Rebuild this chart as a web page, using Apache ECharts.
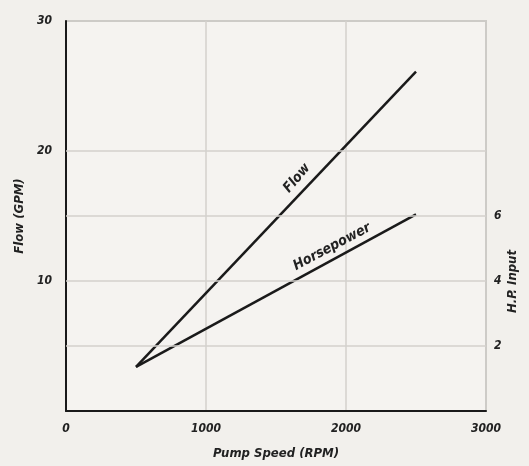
<!DOCTYPE html>
<html>
<head>
<meta charset="utf-8">
<script src="https://cdn.jsdelivr.net/npm/echarts@6/dist/echarts.min.js"></script>
<style>
html,body{margin:0;padding:0;background:#f2f0ec;}
#c{width:529px;height:466px;}
</style>
</head>
<body>
<div id="c"></div>
<script>
// Data
var pumpSpeed = [500, 2500];          // RPM
var flowGPM = [3.4, 26.1];            // GPM (left axis)
var hpInput = [1.36, 6.05];           // H.P. (right axis)
var xTicks = [0, 1000, 2000, 3000];
var flowTickLabels = [10, 20, 30];
var hpTickLabels = [2, 4, 6];
var flowGridValues = [5, 10, 15, 20];
var flowLabelAt = [1650, 17.9];
var hpLabelAt = [1900, 5.05];

var FONT = '"DejaVu Sans Condensed","Liberation Sans Narrow",sans-serif';
var txt = {fontFamily: FONT, fontStyle: 'italic', fontWeight: 'bold', color: '#222'};

var chart = echarts.init(document.getElementById('c'), null, {renderer: 'canvas'});
chart.setOption({
  backgroundColor: '#f2f0ec',
  animation: false,
  grid: {left: 66, right: 43, top: 21, bottom: 55, show: true, borderColor: '#cdcbc7', borderWidth: 2, backgroundColor: '#f5f3f0'},
  xAxis: {
    type: 'value', min: 0, max: 3000, interval: 1000,
    name: 'Pump Speed (RPM)', nameLocation: 'middle', nameGap: 36,
    nameTextStyle: Object.assign({fontSize: 13}, txt),
    axisLine: {show: true, lineStyle: {color: '#1a1a1a', width: 2}},
    axisTick: {show: false},
    splitLine: {show: true, lineStyle: {color: '#d3d1cd', width: 1.5}},
    axisLabel: Object.assign({fontSize: 12, margin: 12, formatter: function(v){return xTicks.indexOf(v) >= 0 ? String(v) : '';}}, txt)
  },
  yAxis: [{
    type: 'value', min: 0, max: 30, interval: 5,
    name: 'Flow (GPM)', nameLocation: 'middle', nameGap: 40,
    nameTextStyle: Object.assign({fontSize: 13}, txt),
    axisLine: {show: true, lineStyle: {color: '#1a1a1a', width: 2}},
    axisTick: {show: false},
    splitLine: {show: false},
    axisLabel: Object.assign({fontSize: 12, margin: 14, formatter: function(v){return flowTickLabels.indexOf(v) >= 0 ? String(v) : '';}}, txt)
  }, {
    type: 'value', min: 0, max: 12, interval: 2, position: 'right',
    axisLine: {show: true, lineStyle: {color: '#cdcbc7', width: 2}},
    axisTick: {show: false},
    splitLine: {show: false},
    axisLabel: Object.assign({fontSize: 12, margin: 8, formatter: function(v){return hpTickLabels.indexOf(v) >= 0 ? String(v) : '';}}, txt)
  }],
  graphic: [{
    type: 'text', left: 506, top: 250, rotation: Math.PI / 2,
    style: {text: 'H.P. Input', font: 'italic bold 13px ' + FONT, fill: '#222'}
  }],
  series: [{
    name: 'Flow', type: 'line', yAxisIndex: 0, symbol: 'none',
    data: pumpSpeed.map(function(x, i){return [x, flowGPM[i]];}),
    lineStyle: {color: '#1a1a1a', width: 2.5},
    markLine: {
      silent: true, symbol: 'none', label: {show: false},
      lineStyle: {color: '#d3d1cd', width: 1.5, type: 'solid'},
      data: flowGridValues.map(function(v){return {yAxis: v};})
    },
    markPoint: {
      symbol: 'circle', symbolSize: 0,
      data: [{coord: flowLabelAt}],
      label: Object.assign({show: true, formatter: 'Flow', rotate: 50, fontSize: 14, position: 'inside'}, txt)
    },
    z: 3
  }, {
    name: 'Horsepower', type: 'line', yAxisIndex: 1, symbol: 'none',
    data: pumpSpeed.map(function(x, i){return [x, hpInput[i]];}),
    lineStyle: {color: '#1a1a1a', width: 2.5},
    markPoint: {
      symbol: 'circle', symbolSize: 0,
      data: [{coord: hpLabelAt}],
      label: Object.assign({show: true, formatter: 'Horsepower', rotate: 28, fontSize: 14, position: 'inside'}, txt)
    },
    z: 3
  }]
});
</script>
</body>
</html>
